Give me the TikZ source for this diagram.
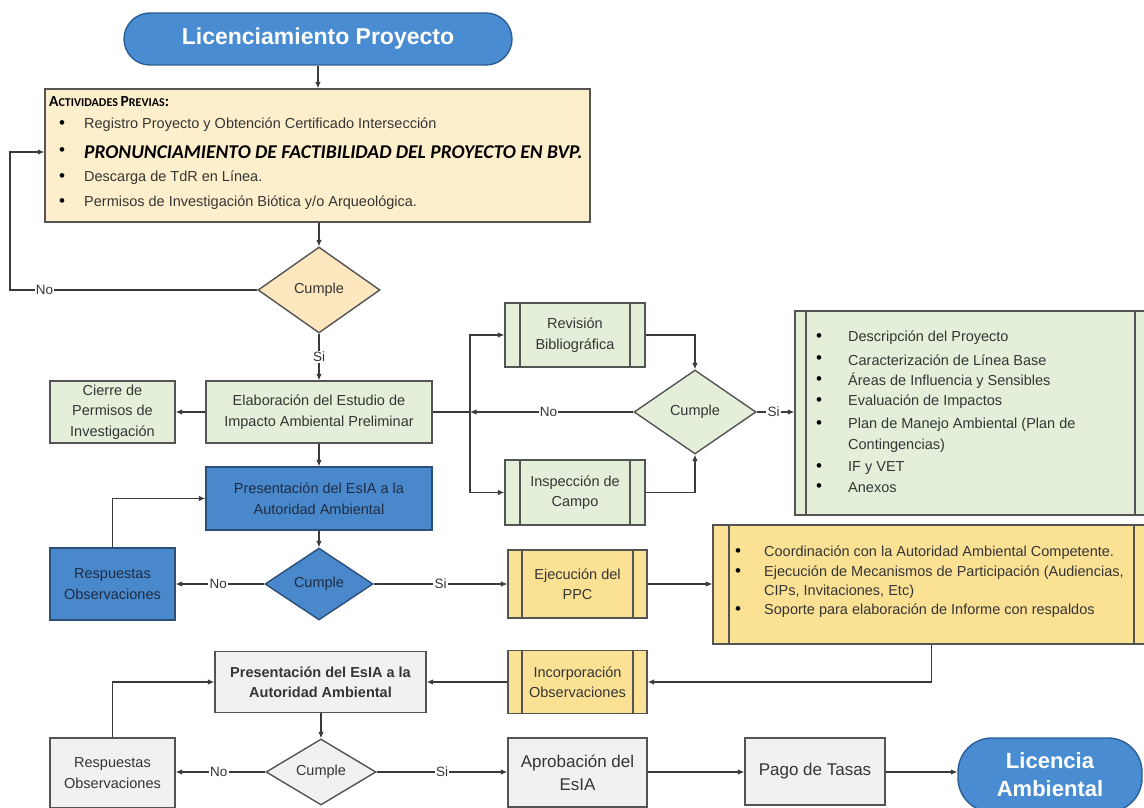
\documentclass[tikz,border=0pt]{standalone}
\usepackage{fontspec}
\setmainfont{Liberation Sans}
\newfontfamily\calibfont{Carlito}
\usetikzlibrary{shapes.geometric,arrows.meta}
\definecolor{pillblue}{HTML}{4A8CD2}
\definecolor{pillborder}{HTML}{2D5E93}
\definecolor{boxblue}{HTML}{4A88CC}
\definecolor{boxblueborder}{HTML}{2B4F78}
\definecolor{paleyellow}{HTML}{FDEFCB}
\definecolor{dyellow}{HTML}{FCE7BE}
\definecolor{palegreen}{HTML}{E3EFD9}
\definecolor{goldfill}{HTML}{FBE194}
\definecolor{boxgray}{HTML}{F1F1F1}
\definecolor{bordc}{HTML}{545454}
\definecolor{linec}{HTML}{3A3A3A}
\definecolor{txt}{HTML}{353535}
\definecolor{bluetxt}{HTML}{1E2D45}
\begin{document}
\begin{tikzpicture}[x=1pt,y=-1pt,
  base/.style={draw=bordc,line width=1.4pt,inner sep=2pt,align=center,text=txt,font=\fontsize{14.5}{20.5}\selectfont},
  greenbox/.style={base,fill=palegreen},
  bluebox/.style={base,fill=boxblue,draw=boxblueborder,text=bluetxt},
  goldbox/.style={base,fill=goldfill},
  graybox/.style={base,fill=boxgray},
  pill/.style={draw=pillborder,line width=1.4pt,fill=pillblue,text=white,align=center,rounded corners=#1},
  dia/.style={diamond,draw=bordc,line width=1.4pt,inner sep=0pt,text=txt,font=\fontsize{14.5}{17}\selectfont},
  ln/.style={draw=linec,line width=1.1pt},
  arr/.style={ln,-{Latex[length=6.5pt,width=5.5pt]}},
  lab/.style={fill=white,inner sep=1.2pt,text=txt,font=\fontsize{13.5}{14}\selectfont},
  li/.style={anchor=west,inner sep=0pt,text=txt,font=\fontsize{14.5}{17}\selectfont},
  bul/.style={inner sep=0pt,text=black,font=\fontsize{17}{17}\selectfont},
  subl/.style={path picture={
     \draw[draw=bordc,line width=1.3pt] ([xshift=#1]path picture bounding box.north west) -- ([xshift=#1]path picture bounding box.south west);
     \draw[draw=bordc,line width=1.3pt] ([xshift=-#1]path picture bounding box.north east) -- ([xshift=-#1]path picture bounding box.south east);}}
]
\useasboundingbox[fill=white] (0,0) rectangle (1144,808);

% ---------- top ----------
\node[pill=26pt,minimum width=388pt,minimum height=52pt,font=\bfseries\fontsize{23}{26}\selectfont] (title) at (318,39) {Licenciamiento Proyecto};

\node[base,fill=paleyellow,minimum width=545pt,minimum height=133pt] (actv) at (317.5,155.5) {};
\node[anchor=west,inner sep=0pt,text=black,font=\calibfont\bfseries] (ah) at (49,102)
  {{\fontsize{15.5}{16}\selectfont A}{\fontsize{12}{12}\selectfont CTIVIDADES }{\fontsize{15.5}{16}\selectfont P}{\fontsize{12}{12}\selectfont REVIAS}{\fontsize{15.5}{16}\selectfont :}};
\node[bul] (ab1) at (62,125) {\textbullet};
\node[bul] (ab2) at (62,152) {\textbullet};
\node[bul] (ab3) at (62,178) {\textbullet};
\node[bul] (ab4) at (62,203) {\textbullet};
\node[li] (at1) at (84,125) {Registro Proyecto y Obtención Certificado Intersección};
\node[li,text=black,font=\calibfont\bfseries\itshape\fontsize{19.5}{21}\selectfont] (at2) at (84,152) {PRONUNCIAMIENTO DE FACTIBILIDAD DEL PROYECTO EN BVP.};
\node[li] (at3) at (84,178) {Descarga de TdR en Línea.};
\node[li] (at4) at (84,203) {Permisos de Investigación Biótica y/o Arqueológica.};

\node[dia,fill=dyellow,minimum width=122pt,minimum height=86pt] (d1) at (319,290) {Cumple};
\coordinate (loopL) at (10,290);
\coordinate (pronrow) at (0,152);

% ---------- green row ----------
\node[greenbox,minimum width=226pt,minimum height=62pt] (elab) at (319,412) {Elaboración del Estudio de\\Impacto Ambiental Preliminar};
\node[greenbox,minimum width=125pt,minimum height=62pt] (cierre) at (112.5,412) {Cierre de\\Permisos de\\Investigación};
\node[greenbox,subl=15pt,minimum width=140pt,minimum height=64pt] (rev) at (575,335) {Revisión\\Bibliográfica};
\node[greenbox,subl=15pt,minimum width=140pt,minimum height=65pt] (insp) at (575,492.5) {Inspección de\\Campo};
\node[dia,fill=palegreen,minimum width=122pt,minimum height=84pt] (d2) at (695,412) {Cumple};
\coordinate (J) at (470,412);

\node[greenbox,subl=11pt,minimum width=351pt,minimum height=204pt] (prod) at (970.5,413) {};
\foreach \yy/\nm in {338/g1,360/g2,381/g3,402/g4,425/g5,468/g7,488/g8}
  \node[bul] (\nm b) at (819,\yy) {\textbullet};
\node[li] (g1) at (848,338) {Descripción del Proyecto};
\node[li] (g2) at (848,360) {Caracterización de Línea Base};
\node[li] (g3) at (848,381) {Áreas de Influencia y Sensibles};
\node[li] (g4) at (848,402) {Evaluación de Impactos};
\node[li] (g5) at (848,425) {Plan de Manejo Ambiental (Plan de};
\node[li] (g6) at (848,446) {Contingencias)};
\node[li] (g7) at (848,468) {IF y VET};
\node[li] (g8) at (848,488) {Anexos};

% ---------- blue row ----------
\node[bluebox,minimum width=226pt,minimum height=63pt] (pres1) at (319,498.5) {Presentación del EsIA a la\\Autoridad Ambiental};
\node[dia,fill=boxblue,draw=boxblueborder,text=bluetxt,minimum width=108pt,minimum height=72pt] (d3) at (319,584) {Cumple};
\node[bluebox,minimum width=125pt,minimum height=72pt] (resp1) at (112.5,584) {Respuestas\\Observaciones};
\node[goldbox,subl=14pt,minimum width=139pt,minimum height=68pt] (ppc) at (577.5,584) {Ejecución del\\PPC};
\node[goldbox,subl=16pt,minimum width=437pt,minimum height=119pt] (ybig) at (931.5,584.5) {};
\foreach \yy/\nm in {553/y1,573/y2,611/y4}
  \node[bul] (\nm b) at (738,\yy) {\textbullet};
\node[li] (y1) at (764,553) {Coordinación con la Autoridad Ambiental Competente.};
\node[li] (y2) at (764,573) {Ejecución de Mecanismos de Participación (Audiencias,};
\node[li] (y3) at (764,592) {CIPs, Invitaciones, Etc)};
\node[li] (y4) at (764,611) {Soporte para elaboración de Informe con respaldos};

% ---------- gray rows ----------
\node[goldbox,subl=14pt,minimum width=139pt,minimum height=63pt] (incorp) at (577.5,682) {Incorporación\\Observaciones};
\node[graybox,minimum width=211pt,minimum height=61pt,font=\bfseries\fontsize{14.5}{20.5}\selectfont] (pres2) at (320.5,682) {Presentación del EsIA a la\\Autoridad Ambiental};
\node[dia,fill=boxgray,minimum width=110pt,minimum height=66pt] (d4) at (321,772) {Cumple};
\node[graybox,minimum width=125pt,minimum height=70pt] (resp2) at (112.5,773) {Respuestas\\Observaciones};
\node[graybox,minimum width=139pt,minimum height=69pt,font=\fontsize{17}{23}\selectfont] (aprob) at (577.5,772.5) {Aprobación del\\EsIA};
\node[graybox,minimum width=140pt,minimum height=67pt,font=\fontsize{17}{21}\selectfont] (pago) at (815,771.5) {Pago de Tasas};
\node[pill=34pt,minimum width=184pt,minimum height=74pt,font=\bfseries\fontsize{22}{28}\selectfont] (lic) at (1050,775) {Licencia\\Ambiental};

% ---------- connectors ----------
\draw[arr] (title.south) -- (title.south |- actv.north);
\draw[arr] (actv.south -| d1.north) -- (d1.north);
\draw[arr] (d1.west) -- node[lab,pos=0.86]{No} (loopL) -- (loopL |- pronrow) -- (actv.west |- pronrow);
\draw[arr] (d1.south) -- node[lab]{Si} (elab.north);
\draw[arr] (elab.west) -- (cierre.east);
\draw[ln] (elab.east) -- (J);
\draw[arr] (J) |- (rev.west);
\draw[arr] (J) |- (insp.west);
\draw[arr] (d2.west) -- node[lab,pos=0.52]{No} (J);
\draw[arr] (rev.east) -| (d2.north);
\draw[arr] (insp.east) -| (d2.south);
\draw[arr] (d2.east) -- node[lab,pos=0.45]{Si} (d2.east -| prod.west);
\draw[arr] (elab.south) -- (pres1.north);
\draw[arr] (pres1.south) -- (d3.north);
\draw[arr] (d3.west) -- node[lab,pos=0.52]{No} (resp1.east);
\draw[arr] (resp1.north) |- (pres1.west);
\draw[arr] (d3.east) -- node[lab,pos=0.5]{Si} (ppc.west);
\draw[arr] (ppc.east) -- (ppc.east -| ybig.west);
\draw[arr] (ybig.south) |- (incorp.east);
\draw[arr] (incorp.west) -- (pres2.east);
\draw[arr] (pres2.south -| d4.north) -- (d4.north);
\draw[arr] (d4.west) -- node[lab,pos=0.52]{No} (d4.west -| resp2.east);
\draw[arr] (resp2.north) |- (pres2.west);
\draw[arr] (d4.east) -- node[lab,pos=0.5]{Si} (d4.east -| aprob.west);
\draw[arr] (aprob.east |- d4.east) -- (pago.west |- d4.east);
\draw[arr] (pago.east |- d4.east) -- (lic.west |- d4.east);
\end{tikzpicture}
\end{document}
